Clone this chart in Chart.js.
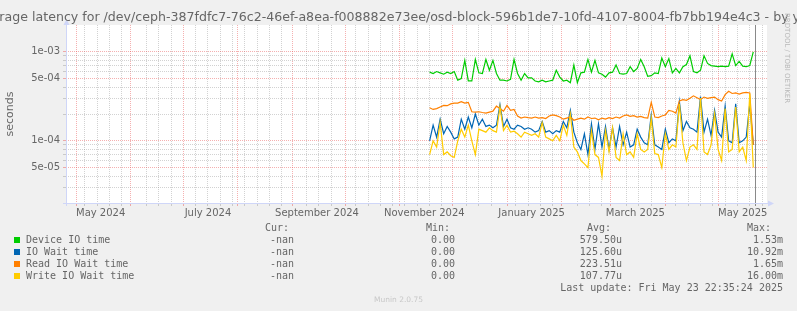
<!DOCTYPE html>
<html>
<head>
<meta charset="utf-8">
<script src="https://cdn.jsdelivr.net/npm/chart.js@4.4.1/dist/chart.umd.min.js"></script>
<style>
  html, body { margin: 0; padding: 0; background: #f0f0f0; overflow: hidden; }
  #wrap { position: relative; width: 797px; height: 311px; overflow: hidden; font-family: "DejaVu Sans", sans-serif; color: #666; }
  #chart { position: absolute; left: 0; top: 0; }
  .t { position: absolute; white-space: nowrap; }
  #title { left: 398.5px; top: 9px; transform: translateX(-50%); font-size: 12.6px; }
  .mono { font-family: "DejaVu Sans Mono", monospace; font-size: 10px; line-height: 12px; }
  .box { position: absolute; width: 6px; height: 6px; }
  #munin { left: 398.5px; top: 295px; transform: translateX(-50%); font-size: 7.5px; color: #c8c8c8; }
  #rrd { left: 783px; top: 13px; writing-mode: vertical-rl; font-size: 7px; color: #b8b8b8; }
</style>
</head>
<body>
<div id="wrap">
  <canvas id="chart" width="797" height="311"></canvas>
  <div class="t" id="title">Average latency for /dev/ceph-387fdfc7-76c2-46ef-a8ea-f008882e73ee/osd-block-596b1de7-10fd-4107-8004-fb7bb194e4c3 - by year</div>
  <div class="t" id="rrd">RRDTOOL / TOBI OETIKER</div>
  <div class="t" id="munin">Munin 2.0.75</div>
  <div id="legend"></div>
</div>
<script>
// Munin diskstats latency, yearly view (values in microseconds, one sample every 2 days)
const firstSample = '2024-11-18';
const sampleStepDays = 2;

const deviceIO = [590,570,600,580,560,590,570,600,480,500,
  800,470,470,820,580,570,820,620,800,570,
  480,480,470,490,820,570,480,570,510,510,
  470,460,480,460,470,480,620,520,470,480,
  450,710,450,580,590,820,590,800,580,560,
  520,580,590,710,570,560,570,680,600,650,
  820,680,530,540,580,570,850,680,840,580,
  650,580,680,720,900,600,580,620,900,740,
  700,690,680,690,680,690,950,700,780,690,
  680,700,1000];

const ioWait = [100,150,110,175,120,145,125,105,110,175,
  135,185,140,200,150,175,145,150,140,150,
  255,145,175,140,135,150,145,135,140,135,
  125,130,165,125,130,120,130,125,165,140,
  220,125,95,80,120,70,155,80,155,85,
  145,80,140,85,145,90,125,85,90,135,
  110,95,90,195,90,85,80,135,95,105,
  100,275,130,165,140,135,125,315,125,175,
  115,220,125,110,245,100,95,260,95,100,
  110,260,90];

const readWait = [235,225,230,240,250,248,260,265,265,275,
  265,270,212,210,212,208,205,210,215,245,
  230,215,250,220,225,190,180,185,182,180,
  185,180,182,178,190,195,192,185,175,180,
  185,170,175,180,175,185,178,180,172,180,
  175,182,178,185,180,190,195,188,192,185,
  188,182,180,270,185,182,190,195,220,215,
  205,280,290,285,300,320,305,290,310,300,
  305,310,290,280,330,360,340,345,335,345,
  350,345,90];

const writeWait = [70,100,85,160,70,75,68,65,100,135,
  110,150,100,70,135,130,125,140,130,125,
  240,130,150,125,128,120,110,125,120,115,
  120,110,160,110,105,100,115,100,150,115,
  200,85,75,60,55,50,130,70,65,40,
  130,75,140,65,60,120,70,75,65,120,
  80,75,80,180,72,70,50,120,80,90,
  85,260,95,60,85,90,80,300,75,70,
  90,200,80,60,230,75,80,240,75,85,
  60,340,50];

const seriesNames = ['Device IO time', 'IO Wait time', 'Read IO Wait time', 'Write IO Wait time'];
const seriesColors = ['#00cc00', '#0066b3', '#ff8000', '#ffcc00'];
const curText = ['-nan', '-nan', '-nan', '-nan'];
const minText = ['0.00', '0.00', '0.00', '0.00'];
const avgText = ['579.50u', '125.60u', '223.51u', '107.77u'];
const maxText = ['1.53m', '10.92m', '1.65m', '16.00m'];
const lastUpdate = 'Last update: Fri May 23 22:35:24 2025';

const xTickLabels = ['May 2024', 'July 2024', 'September 2024', 'November 2024', 'January 2025', 'March 2025', 'May 2025'];
const xTickDates = ['2024-05-15', '2024-07-15', '2024-09-15', '2024-11-15', '2025-01-15', '2025-03-15', '2025-05-15'];
const yTickValues = [5e-5, 1e-4, 5e-4, 1e-3];
const yTickLabels = ['5e-05', '1e-04', '5e-04', '1e-03'];

// x axis works in days counted from 2024-05-01
const DAY = 86400000;
const origin = Date.UTC(2024, 4, 1);
const toDay = s => (Date.parse(s + 'T00:00:00Z') - origin) / DAY;
const xMin = -5.7, xMax = 392.8;
const nowDay = 386;

const day0 = toDay(firstSample);
const sampleDays = deviceIO.map((_, i) => day0 + i * sampleStepDays);
const toPoints = arr => arr.map((v, i) => ({ x: sampleDays[i], y: v * 1e-6 }));

// grid ticks: weeks (minor), month starts (major), label ticks (no line)
const tickKind = new Map();
for (let d = -2; d <= xMax; d += 7) tickKind.set(d, 'minor');
for (let y = 2024, m = 3; y * 12 + m <= 2025 * 12 + 5; m++) {
  if (m > 11) { m = 0; y++; }
  const d = (Date.UTC(y, m, 1) - origin) / DAY;
  if (d > xMin && d < xMax) {
    for (const k of tickKind.keys()) if (Math.abs(k - d) < 2.5 && tickKind.get(k) === 'minor') tickKind.delete(k);
    tickKind.set(d, 'major');
  }
}
const labelAt = new Map();
xTickDates.forEach((s, i) => { const d = toDay(s); labelAt.set(d, xTickLabels[i]); if (!tickKind.has(d)) tickKind.set(d, 'label'); });

const yGrid = [];
[1e-5, 1e-4, 1e-3].forEach(dec => { for (let k = 1; k <= 9; k++) { const v = k * dec; if (v > 2.01e-5 && v < 1.99e-3) yGrid.push(v); } });
const isYMajor = v => yTickValues.some(t => Math.abs(t - v) / t < 1e-6);
const yLabel = v => { const i = yTickValues.findIndex(t => Math.abs(t - v) / t < 1e-6); return i >= 0 ? yTickLabels[i] : ''; };

const MINOR = 'rgba(143,143,143,0.4)';
const MAJOR = 'rgba(233,80,79,0.45)';
const AXIS = '#cfd6f8';

const muninFrame = {
  id: 'muninFrame',
  beforeDraw(chart) {
    const { ctx, chartArea: a } = chart;
    ctx.save();
    ctx.fillStyle = '#ffffff';
    ctx.fillRect(a.left, a.top, a.right - a.left, a.bottom - a.top);
    ctx.restore();
  },
  afterDatasetsDraw(chart) {
    const { ctx, chartArea: a, scales } = chart;
    const xn = Math.round(scales.x.getPixelForValue(nowDay)) + 0.5;
    ctx.save();
    ctx.strokeStyle = '#8a8a8a';
    ctx.lineWidth = 1;
    ctx.beginPath(); ctx.moveTo(xn, a.top); ctx.lineTo(xn, a.bottom + 3); ctx.stroke();
    // axes with arrows
    ctx.strokeStyle = AXIS; ctx.fillStyle = AXIS;
    const yb = a.bottom + 0.5, xl = a.left + 0.5;
    ctx.beginPath(); ctx.moveTo(a.left - 3, yb); ctx.lineTo(a.right + 2, yb); ctx.stroke();
    ctx.beginPath(); ctx.moveTo(a.right + 1, yb - 3); ctx.lineTo(a.right + 7, yb); ctx.lineTo(a.right + 1, yb + 3); ctx.closePath(); ctx.fill();
    ctx.beginPath(); ctx.moveTo(xl, a.bottom + 3); ctx.lineTo(xl, a.top - 1); ctx.stroke();
    ctx.beginPath(); ctx.moveTo(xl - 3, a.top); ctx.lineTo(xl, a.top - 6); ctx.lineTo(xl + 3, a.top); ctx.closePath(); ctx.fill();
    ctx.restore();
  }
};

const order = [4, 3, 2, 1];
const series = [deviceIO, ioWait, readWait, writeWait];

Chart.defaults.font.family = 'DejaVu Sans';
Chart.defaults.color = '#666';

new Chart(document.getElementById('chart'), {
  type: 'line',
  data: {
    datasets: series.map((s, i) => ({
      label: seriesNames[i],
      data: toPoints(s),
      borderColor: seriesColors[i],
      backgroundColor: seriesColors[i],
      borderWidth: 1.2,
      pointRadius: 0,
      tension: 0,
      fill: false,
      order: order[i]
    }))
  },
  options: {
    responsive: false,
    devicePixelRatio: 1,
    animation: false,
    layout: { padding: { left: 0, top: 25, right: 30, bottom: 0 } },
    plugins: { legend: { display: false }, tooltip: { enabled: false }, title: { display: false } },
    scales: {
      x: {
        type: 'linear',
        min: xMin, max: xMax,
        afterFit: s => { s.height = 108; },
        afterBuildTicks: s => { s.ticks = [...tickKind.keys()].sort((a, b) => a - b).map(v => ({ value: v })); },
        grid: {
          color: c => { const k = tickKind.get(c.tick && c.tick.value); return k === 'major' ? MAJOR : k === 'minor' ? MINOR : 'rgba(0,0,0,0)'; },
          tickColor: c => { const k = tickKind.get(c.tick && c.tick.value); return k === 'major' ? MAJOR : k === 'minor' ? MINOR : 'rgba(0,0,0,0)'; },
          tickLength: 3,
          lineWidth: 1
        },
        border: { display: false, dash: [1, 1] },
        ticks: {
          autoSkip: false, maxRotation: 0, padding: 1,
          font: { size: 10 }, color: '#666',
          callback: v => labelAt.get(v) || ''
        }
      },
      y: {
        type: 'logarithmic',
        min: 2e-5, max: 2e-3,
        afterFit: s => { s.width = 66; },
        afterBuildTicks: s => { s.ticks = yGrid.map(v => ({ value: v })); },
        grid: {
          color: c => isYMajor(c.tick.value) ? MAJOR : MINOR,
          tickColor: c => isYMajor(c.tick.value) ? MAJOR : MINOR,
          tickLength: 3,
          lineWidth: 1
        },
        border: { display: false, dash: [1, 1] },
        ticks: {
          autoSkip: false, padding: 3,
          font: { size: 10 }, color: '#666',
          callback: v => yLabel(v)
        },
        title: { display: true, text: 'seconds', color: '#666', font: { size: 11 }, padding: { top: 4, bottom: 0 } }
      }
    }
  },
  plugins: [muninFrame]
});

// legend table below the graph
const legend = document.getElementById('legend');
function put(text, css) {
  const d = document.createElement('div');
  d.className = 't mono';
  d.textContent = text;
  Object.assign(d.style, css);
  legend.appendChild(d);
}
put('Cur:', { left: '265px', top: '221.5px' });
put('Min:', { left: '426px', top: '221.5px' });
put('Avg:', { left: '587px', top: '221.5px' });
put('Max:', { left: '747px', top: '221.5px' });
seriesNames.forEach((name, i) => {
  const top = 233.5 + 12 * i;
  const b = document.createElement('div');
  b.className = 'box';
  Object.assign(b.style, { left: '14px', top: (236.5 + 12 * i) + 'px', background: seriesColors[i] });
  legend.appendChild(b);
  put(name, { left: '26px', top: top + 'px' });
  put(curText[i], { right: '503px', top: top + 'px' });
  put(minText[i], { right: '342px', top: top + 'px' });
  put(avgText[i], { right: '175px', top: top + 'px' });
  put(maxText[i], { right: '14px', top: top + 'px' });
});
put(lastUpdate, { right: '14px', top: '281.5px' });
</script>
</body>
</html>
